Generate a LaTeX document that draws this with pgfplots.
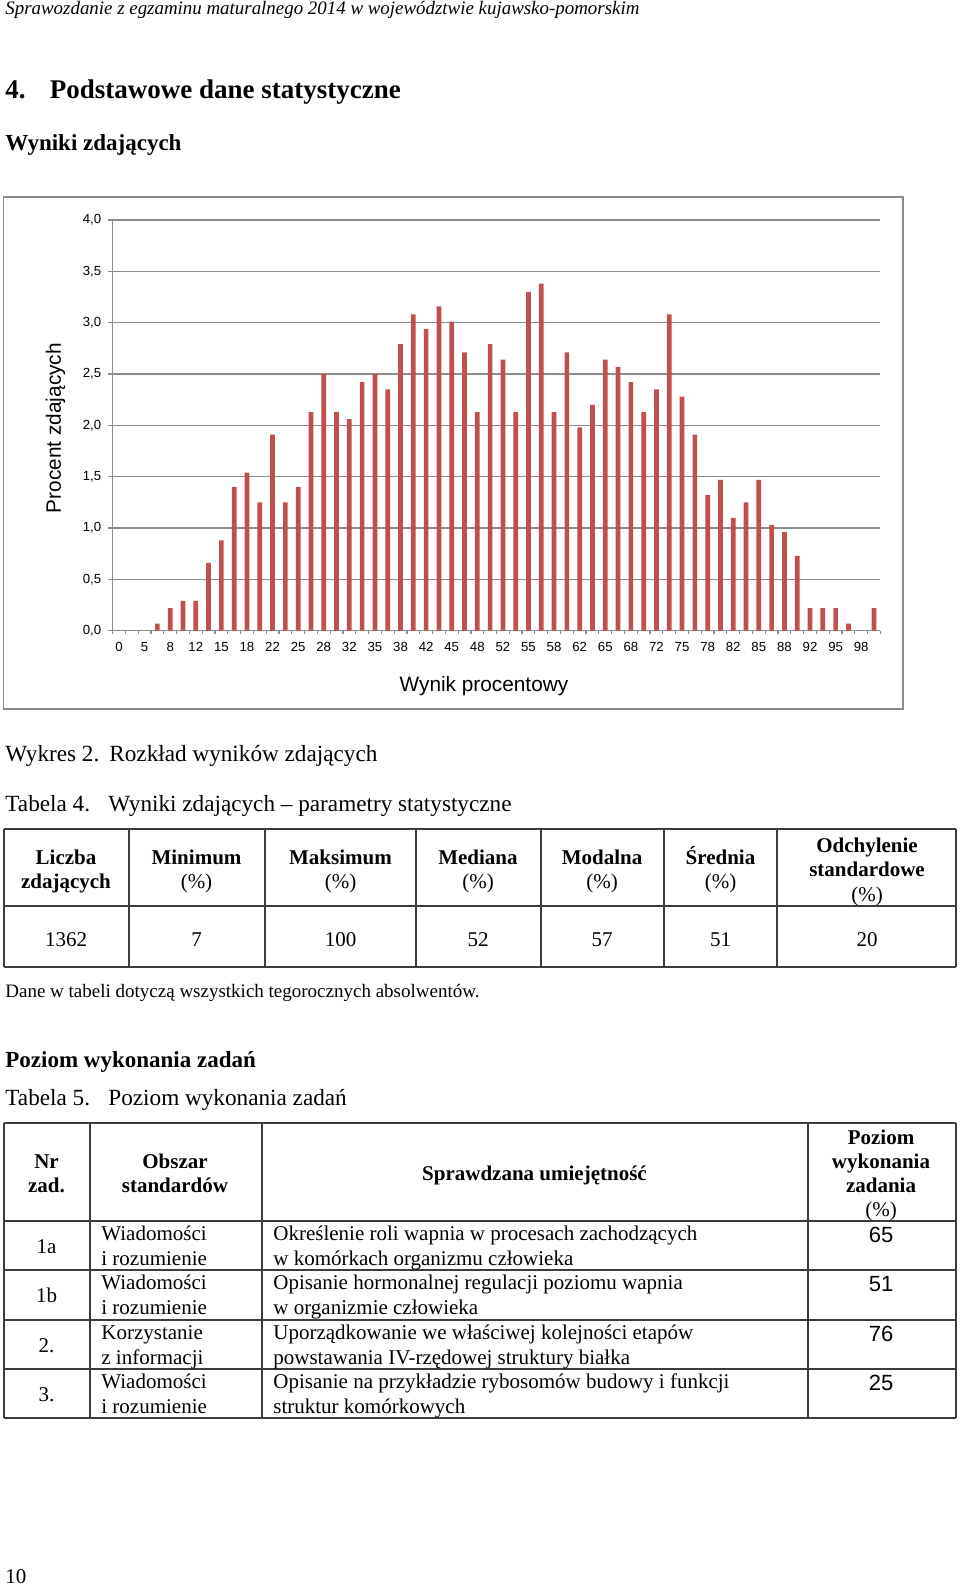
\documentclass[border=0pt]{standalone}
\usepackage{fontspec}
\setmainfont{Liberation Serif}
\newfontfamily\arial{Liberation Sans}
\usepackage{graphicx}
\usepackage{pgfplots}
\pgfplotsset{compat=1.18}
\usepackage{pgfplotstable}
\definecolor{barred}{HTML}{C0504D}
\definecolor{gridgray}{HTML}{8C8C8C}
\definecolor{tabline}{HTML}{3C3C3C}

\pgfplotstableread{
idx val
0 0
1 0
2 0
3 0.07
4 0.22
5 0.29
6 0.29
7 0.66
8 0.88
9 1.40
10 1.54
11 1.25
12 1.91
13 1.25
14 1.40
15 2.13
16 2.50
17 2.13
18 2.06
19 2.42
20 2.50
21 2.35
22 2.79
23 3.08
24 2.94
25 3.16
26 3.01
27 2.71
28 2.13
29 2.79
30 2.64
31 2.13
32 3.30
33 3.38
34 2.13
35 2.71
36 1.98
37 2.20
38 2.64
39 2.57
40 2.42
41 2.13
42 2.35
43 3.08
44 2.28
45 1.91
46 1.32
47 1.47
48 1.10
49 1.25
50 1.47
51 1.03
52 0.96
53 0.73
54 0.22
55 0.22
56 0.22
57 0.07
58 0
59 0.22
}\wyniki

\newcommand{\tf}{\fontsize{10.5}{12}\selectfont}
\newcommand{\tb}{\fontsize{10.5}{12}\selectfont\bfseries}
\newcommand{\bt}{\fontsize{11.6}{14}\selectfont}

\begin{document}
\begin{tikzpicture}
\begin{scope}[x=0.5pt,y=-0.5pt]
\path[use as bounding box, fill=white] (0,0) rectangle (960,1585);
% page header
\node[anchor=base west, inner sep=0pt] at (5,14) {\resizebox{317pt}{\height}{\fontsize{9.5}{11}\selectfont\itshape Sprawozdanie z egzaminu maturalnego 2014 w województwie kujawsko-pomorskim}};
\node[anchor=base west, inner sep=0pt, font=\fontsize{13.5}{16}\selectfont\bfseries] at (5,98) {4.};
\node[anchor=base west, inner sep=0pt, font=\fontsize{13.5}{16}\selectfont\bfseries] at (49.5,98) {Podstawowe dane statystyczne};
\node[anchor=base west, inner sep=0pt, font=\fontsize{11.5}{14}\selectfont\bfseries] at (5,150) {Wyniki zdających};
% chart frame
\draw[gridgray, line width=0.75pt] (3.5,197) rectangle (903,709);
% captions
\node[anchor=base west, inner sep=0pt, font=\bt] at (5,761) {Wykres 2.};
\node[anchor=base west, inner sep=0pt, font=\bt] at (109,761) {Rozkład wyników zdających};
\node[anchor=base west, inner sep=0pt, font=\bt] at (5,811) {Tabela 4.};
\node[anchor=base west, inner sep=0pt, font=\bt] at (108,811) {Wyniki zdających – parametry statystyczne};
% table 4
\draw[tabline, line width=0.7pt] (4,829)--(956,829) (4,906)--(956,906) (4,967)--(956,967);
\foreach \xx in {4,129,265,416,541,664,777,956} {\draw[tabline, line width=0.7pt] (\xx,829)--(\xx,967);}
\foreach \cx/\na in {66/Liczba, 196.5/Minimum, 340.5/Maksimum, 478/Mediana, 602/Modalna, 720.5/Średnia} {
  \node[anchor=base, inner sep=0pt, font=\tb] at (\cx,864) {\na};
}
\node[anchor=base, inner sep=0pt, font=\tb] at (66,888) {zdających};
\foreach \cx in {196.5,340.5,478,602,720.5} {\node[anchor=base, inner sep=0pt, font=\tf] at (\cx,888) {(\%)};}
\node[anchor=base, inner sep=0pt, font=\tb] at (867,852) {Odchylenie};
\node[anchor=base, inner sep=0pt, font=\tb] at (867,876) {standardowe};
\node[anchor=base, inner sep=0pt, font=\tf] at (867,901) {(\%)};
\foreach \cx/\v in {66/1362, 196.5/7, 340.5/100, 478/52, 602/57, 720.5/51, 867/20} {
  \node[anchor=base, inner sep=0pt, font=\tf] at (\cx,946) {\v};
}
\node[anchor=base west, inner sep=0pt, font=\fontsize{9.5}{11}\selectfont] at (5,997) {Dane w tabeli dotyczą wszystkich tegorocznych absolwentów.};
% section 2
\node[anchor=base west, inner sep=0pt, font=\fontsize{11.5}{14}\selectfont\bfseries] at (5,1067) {Poziom wykonania zadań};
\node[anchor=base west, inner sep=0pt, font=\bt] at (5,1105) {Tabela 5.};
\node[anchor=base west, inner sep=0pt, font=\bt] at (108,1105) {Poziom wykonania zadań};
% table 5
\foreach \yy in {1123,1221,1270,1320,1369,1418} {\draw[tabline, line width=0.7pt] (4,\yy)--(956,\yy);}
\foreach \xx in {4,90,262,808,956} {\draw[tabline, line width=0.7pt] (\xx,1123)--(\xx,1418);}
\node[anchor=base, inner sep=0pt, font=\tb] at (46.5,1168) {Nr};
\node[anchor=base, inner sep=0pt, font=\tb] at (46.5,1192) {zad.};
\node[anchor=base, inner sep=0pt, font=\tb] at (175,1168) {Obszar};
\node[anchor=base, inner sep=0pt, font=\tb] at (175,1192) {standardów};
\node[anchor=base, inner sep=0pt, font=\tb] at (534.5,1180) {Sprawdzana umiejętność};
\node[anchor=base, inner sep=0pt, font=\tb] at (881,1144) {Poziom};
\node[anchor=base, inner sep=0pt, font=\tb] at (881,1168) {wykonania};
\node[anchor=base, inner sep=0pt, font=\tb] at (881,1192) {zadania};
\node[anchor=base, inner sep=0pt, font=\tf] at (881,1216.5) {(\%)};
\foreach \T/\nr/\oa/\ob/\da/\db/\val in {
  1221/1a/Wiadomości/i rozumienie/Określenie roli wapnia w procesach zachodzących/w komórkach organizmu człowieka/65,
  1270/1b/Wiadomości/i rozumienie/Opisanie hormonalnej regulacji poziomu wapnia/w organizmie człowieka/51,
  1320/2./Korzystanie/z informacji/Uporządkowanie we właściwej kolejności etapów/powstawania IV-rzędowej struktury białka/76,
  1369/3./Wiadomości/i rozumienie/Opisanie na przykładzie rybosomów budowy i funkcji/struktur komórkowych/25} {
  \node[anchor=base, inner sep=0pt, font=\tf] at (46.5,\T+32.5) {\nr};
  \node[anchor=base west, inner sep=0pt, font=\tf] at (101,\T+19.5) {\oa};
  \node[anchor=base west, inner sep=0pt, font=\tf] at (101,\T+44) {\ob};
  \node[anchor=base west, inner sep=0pt, font=\tf] at (273,\T+19.5) {\da};
  \node[anchor=base west, inner sep=0pt, font=\tf] at (273,\T+44) {\db};
  \node[anchor=base, inner sep=0pt, font=\arial\fontsize{11}{13}\selectfont] at (881,\T+21.5) {\val};
}
% page number
\node[anchor=base west, inner sep=0pt, font=\fontsize{10.5}{12}\selectfont] at (5,1583) {10};
\end{scope}

\begin{axis}[
  at={(56.3pt,-315.35pt)}, anchor=south west,
  scale only axis, width=383.9pt, height=205.35pt,
  xmin=-0.5, xmax=59.5, ymin=0, ymax=4,
  axis x line*=bottom, axis y line*=left,
  axis line style={gridgray, line width=0.6pt},
  tick style={gridgray, line width=0.6pt},
  tick align=outside,
  major tick length=2.2pt, minor tick length=1.5pt,
  ytick={0,0.5,...,4},
  ymajorgrids, major grid style={gridgray, line width=0.6pt},
  xtick={0,2,...,58},
  xticklabels={0,5,8,12,15,18,22,25,28,32,35,38,42,45,48,52,55,58,62,65,68,72,75,78,82,85,88,92,95,98},
  minor xtick={-0.5,0.5,...,59.5},
  major x tick style={draw=none},
  /pgf/number format/assume math mode=true,
  tick label style={font=\arial\fontsize{6.6}{7.5}\selectfont, text=black},
  xticklabel style={yshift=0pt},
  yticklabel style={/pgf/number format/.cd, fixed, fixed zerofill, precision=1, use comma},
  xlabel={Wynik procentowy}, ylabel={Procent zdających},
  label style={font=\arial\fontsize{10.4}{12}\selectfont},
  xlabel style={at={(axis description cs:0.4837,-0.1346)}, anchor=center},
  ylabel style={at={(axis description cs:-0.0742,0.4935)}, anchor=center},
]
\addplot[ybar, bar width=2.35pt, fill=barred, draw=none] table[x=idx, y=val] {\wyniki};
\end{axis}
\end{tikzpicture}
\end{document}
